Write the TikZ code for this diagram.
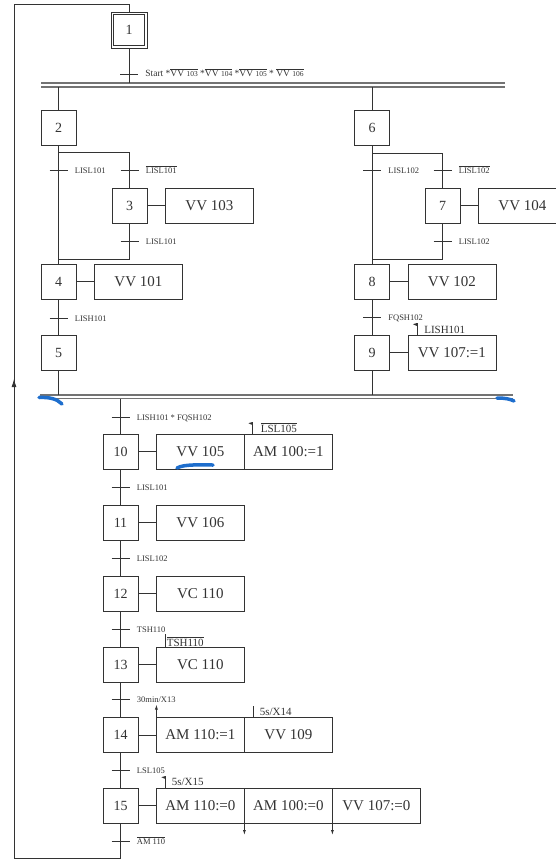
\documentclass[tikz,border=0pt]{standalone}
\usepackage{fontspec}
\setmainfont{Liberation Serif}
\usetikzlibrary{positioning,arrows.meta}
\definecolor{trait}{gray}{0.45}
\definecolor{stylo}{RGB}{30,110,205}
\newcommand{\barre}[1]{$\overline{\mbox{#1}}$}
\newcommand{\petit}[1]{{\fontsize{7.5}{7.5}\selectfont #1}}
% receptivite : petit trait + texte
\newcommand{\recept}[4]{%
\draw(#2-9,#3)--(#2+9,#3);
\node[recept](#1)at(#2+16,#3+3){#4};}
% fanion sur une action
\newcommand{\fanion}[2]{%
\draw(#1)--++(0,-#2)coordinate(f);
\fill(f)--++(-4,1.2)--++(4,1.8)--cycle;}
\tikzset{
etape/.style={draw,minimum size=35pt,inner sep=0pt,font=\fontsize{14}{14}\selectfont},
action/.style={draw,minimum width=88pt,minimum height=35pt,inner sep=0pt,outer sep=0pt,font=\fontsize{15}{15}\selectfont},
recept/.style={anchor=base west,inner sep=0pt,font=\fontsize{8.5}{8.5}\selectfont},
note/.style={anchor=base west,inner sep=0pt,font=\fontsize{11}{11}\selectfont},
barre/.style={draw=trait,line width=1.1pt},
fl/.style={-{Latex[length=5pt,width=3pt]}},
stylo/.style={draw=stylo,line width=3.5pt,line cap=round}}
\begin{document}
\begin{tikzpicture}[x=1pt,y=-1pt,line width=.8pt,color=black!80]
\useasboundingbox(0,0)rectangle(555,859);
% etapes
\node[etape,minimum size=36pt](e1)at(129,30){1};
\node[draw,minimum size=30.5pt,inner sep=0pt](e1i)at(e1){};
\node[etape](e2)at(58.5,127.5){2};
\node[etape](e3)at(129.5,205.5){3};
\node[etape](e4)at(58.5,281.5){4};
\node[etape](e5)at(58.5,352.5){5};
\node[etape](e6)at(372,128){6};
\node[etape](e7)at(442.5,205.5){7};
\node[etape](e8)at(372,281.5){8};
\node[etape](e9)at(372,352.5){9};
\node[etape](e10)at(120.5,451.5){10};
\node[etape](e11)at(120.5,522.5){11};
\node[etape](e12)at(120.5,593.5){12};
\node[etape](e13)at(120.5,664.5){13};
\node[etape](e14)at(120.5,735){14};
\node[etape](e15)at(120.5,805.5){15};
% actions
\node[action,right=18pt of e3](a3){VV 103};
\node[action,right=18pt of e4](a4){VV 101};
\node[action,right=18pt of e7](a7){VV 104};
\node[action,right=18pt of e8](a8){VV 102};
\node[action,right=18pt of e9](a9){VV 107:=1};
\node[action,right=18pt of e10](a10a){VV 105};
\node[action,right=0pt of a10a](a10b){AM 100:=1};
\node[action,right=18pt of e11](a11){VV 106};
\node[action,right=18pt of e12](a12){VC 110};
\node[action,right=18pt of e13](a13){VC 110};
\node[action,right=18pt of e14](a14a){AM 110:=1};
\node[action,right=0pt of a14a](a14b){VV 109};
\node[action,right=18pt of e15](a15a){AM 110:=0};
\node[action,right=0pt of a15a](a15b){AM 100:=0};
\node[action,right=0pt of a15b](a15c){VV 107:=0};
\foreach \e/\a in {3/3,4/4,7/7,8/8,9/9,10/10a,11/11,12/12,13/13,14/14a,15/15a}
  \draw(e\e)--(a\a);
% divergence / convergence en ET
\draw[barre](41,83)--(505,83)(41,87)--(505,87);
\draw[barre](40,395)--(513,395)(40,398.5)--(513,398.5);
\draw(e1.south)--(e1.south|-0,83);
\draw(e2.north)--(e2.north|-0,87);
\draw(e6.north)--(e6.north|-0,87);
\draw(e5.south)--(e5.south|-0,395);
\draw(e9.south)--(e9.south|-0,395);
\draw(e10.north)--(e10.north|-0,398.5);
% sequences
\draw(e2)--(e4)(e4)--(e5)(e6)--(e8)(e8)--(e9);
\draw(e2.south)++(0,7)-|(e3.north);
\draw(e3.south)|-(e4.north|-0,259);
\draw(e6.south)++(0,7)-|(e7.north);
\draw(e7.south)|-(e8.north|-0,259);
\foreach \i [evaluate=\i as \j using int(\i+1)] in {10,...,14}
  \draw(e\i)--(e\j);
% bouclage
\coordinate(bouclebas)at(14,858);
\coordinate(bouclehaut)at(14,4);
\coordinate(fleche)at(14,379);
\draw(e15.south)|-(bouclebas)--(bouclehaut)-|(e1.north);
\draw[-{Latex[length=8pt,width=5pt]}](bouclebas)--(fleche);
% receptivites
\recept{r1}{129}{74}{\fontsize{9.5}{9.5}\selectfont Start *\barre{VV \petit{103}} *\barre{VV \petit{104}} *\barre{VV \petit{105}} * \barre{VV \petit{106}}}
\recept{r2}{58.5}{170}{LISL101}
\recept{r3}{129.5}{170}{\barre{LISL101}}
\recept{r4}{129.5}{241}{LISL101}
\recept{r5}{58.5}{318}{LISH101}
\recept{r6}{372}{170}{LISL102}
\recept{r7}{442.5}{170}{\barre{LISL102}}
\recept{r8}{442.5}{241}{LISL102}
\recept{r9}{372}{317}{FQSH102}
\recept{r10}{120.5}{417}{LISH101 * FQSH102}
\recept{r11}{120.5}{487}{LISL101}
\recept{r12}{120.5}{558}{LISL102}
\recept{r13}{120.5}{629}{TSH110}
\recept{r14}{120.5}{699.5}{30min/X13}
\recept{r15}{120.5}{770}{LSL105}
\recept{r16}{120.5}{841}{\barre{AM 110}}
% conditions et temporisations sur les actions
\fanion{[xshift=9pt]a9.north west}{12}
\node[note](n9)at([xshift=16pt,yshift=2pt]a9.north west){LISH101};
\fanion{[xshift=8pt]a10b.north west}{12}
\node[note](n10)at([xshift=16pt,yshift=2pt]a10b.north west){\barre{LSL105}};
\draw([xshift=9pt]a13.north west)--++(0,-13);
\node[note](n13)at([xshift=10pt,yshift=1pt]a13.north west){\barre{TSH110}};
\draw([xshift=9pt]a14b.north west)--++(0,-12);
\node[note](n14)at([xshift=15pt,yshift=2pt]a14b.north west){5s/X14};
\draw[fl](a14a.north west)--++(0,-13);
\fanion{[xshift=9pt]a15a.north west}{12}
\node[note](n15)at([xshift=15pt,yshift=3pt]a15a.north west){5s/X15};
\draw[fl](a15a.south east)--++(0,12);
\draw[fl](a15b.south east)--++(0,12);
% traits de stylo
\draw[stylo](39,397.5)..controls(50,397)and(57,399)..(62,404);
\draw[stylo](497,398)..controls(505,398)and(510,399)..(514,401);
\draw[stylo](177,468)..controls(184,464)and(200,465)..(213,465);
\end{tikzpicture}
\end{document}
